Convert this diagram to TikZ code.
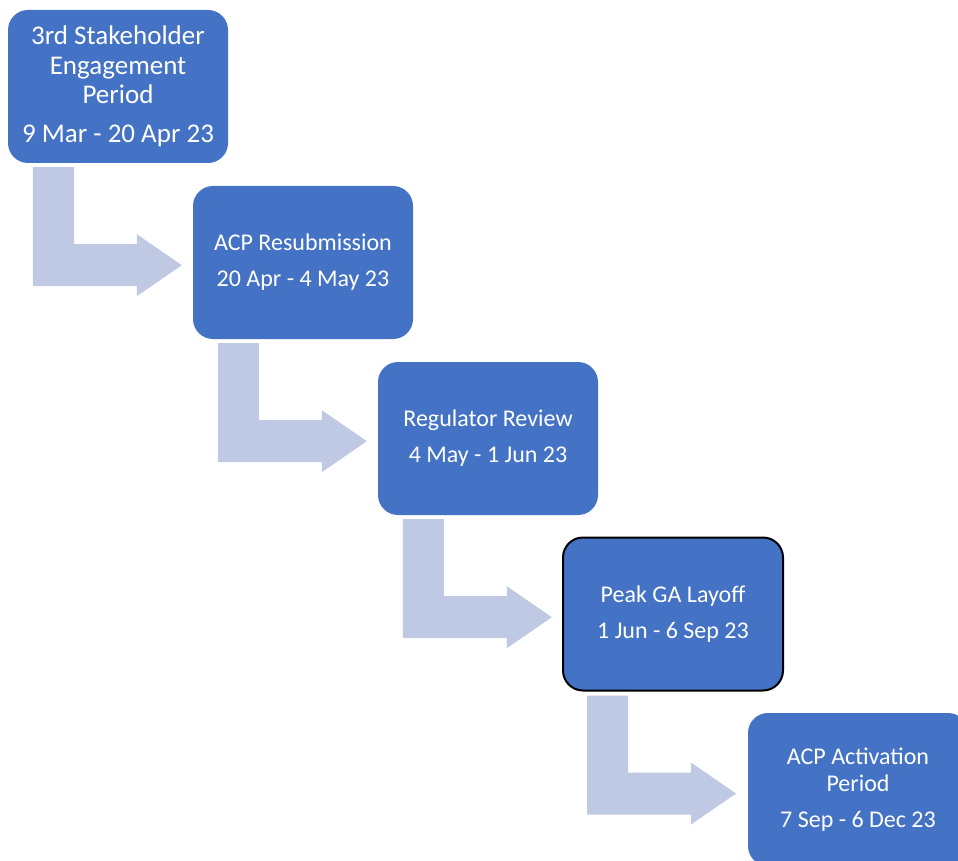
\documentclass[tikz,border=0pt]{standalone}
\usepackage{fontspec}
\setmainfont{Carlito}
\usetikzlibrary{calc}
\definecolor{boxblue}{HTML}{4472C4}
\definecolor{arrowfill}{RGB}{191,201,228}
\begin{document}
\begin{tikzpicture}[x=1pt,y=-1pt,
  stage/.style={fill=boxblue, text=white, rounded corners=20pt, minimum width=220pt, minimum height=153pt, align=center, inner sep=0pt},
  bigtext/.style={font=\fontsize{27}{29.5}\selectfont},
  smalltext/.style={font=\fontsize{24}{27}\selectfont},
  bentarrow/.pic={\fill[arrowfill] (0,0) -- (41,0) -- (41,77) -- (104,77) -- (104,67) -- (149,98) -- (104,129) -- (104,119) -- (0,119) -- cycle;}
]
\useasboundingbox (0,0) rectangle (958,861);
\clip (0,0) rectangle (958,861);
\fill[white] (0,0) rectangle (958,861);
\node[stage, bigtext] (b1) at (118,86.5) {3rd Stakeholder\\Engagement\\Period\\[9pt]9 Mar - 20 Apr 23};
\node[stage, smalltext] (b2) at (303,262.5) {ACP Resubmission\\[9pt]20 Apr - 4 May 23};
\node[stage, smalltext] (b3) at (488,438.5) {Regulator Review\\[9pt]4 May - 1 Jun 23};
\node[stage, smalltext, draw=black, line width=2pt] (b4) at (673,614) {Peak GA Layoff\\[9pt]1 Jun - 6 Sep 23};
\node[stage, smalltext] (b5) at (858,789.5) {ACP Activation\\Period\\[9pt]7 Sep - 6 Dec 23};
\pic at ($(b1.south west)+(25,4)$) {bentarrow};
\pic at ($(b2.south west)+(25,4)$) {bentarrow};
\pic at ($(b3.south west)+(25,4)$) {bentarrow};
\pic at ($(b4.south west)+(25,4)$) {bentarrow};
\end{tikzpicture}
\end{document}
